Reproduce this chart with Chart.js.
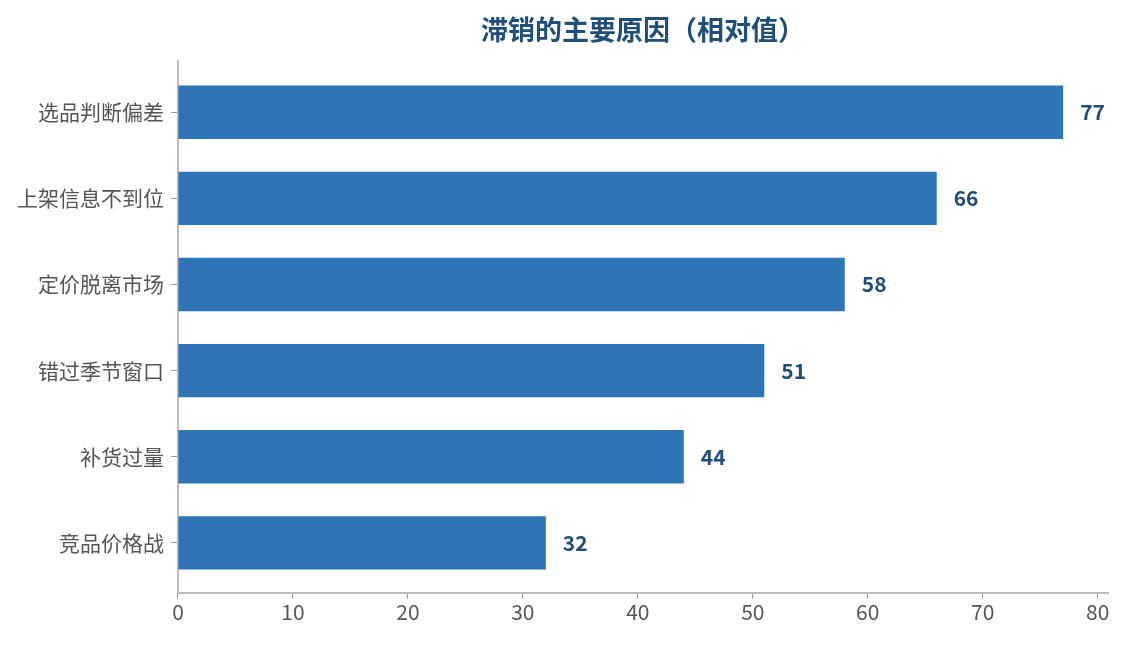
<!DOCTYPE html>
<html>
<head>
<meta charset="utf-8">
<script src="https://cdn.jsdelivr.net/npm/chart.js@4/dist/chart.umd.min.js"></script>
<style>
  html, body { margin: 0; padding: 0; background: #fff; }
  #wrap { width: 1124px; height: 645px; }
</style>
</head>
<body>
<div id="wrap"><canvas id="reasonChart"></canvas></div>
<script>
const reasons = ["选品判断偏差", "上架信息不到位", "定价脱离市场", "错过季节窗口", "补货过量", "竞品价格战"];
const scores = [77, 66, 58, 51, 44, 32];
const xTicks = [0, 10, 20, 30, 40, 50, 60, 70, 80];

const fontFamily = "'Noto Sans CJK SC', 'Noto Sans', sans-serif";

// value labels at the end of each bar
const barValueLabels = {
    id: "barValueLabels",
    afterDatasetsDraw(chart) {
        const ctx = chart.ctx;
        const meta = chart.getDatasetMeta(0);
        ctx.save();
        ctx.fillStyle = "#1F4E79";
        ctx.font = "bold 21px " + fontFamily;
        ctx.textAlign = "left";
        ctx.textBaseline = "middle";
        meta.data.forEach((bar, i) => {
            ctx.fillText(String(scores[i]), bar.x + 17, bar.y);
        });
        ctx.restore();
    }
};

new Chart(document.getElementById("reasonChart"), {
    type: "bar",
    data: {
        datasets: [{
            data: scores.map((v, i) => ({ x: v, y: i })),
            backgroundColor: "#2E75B6",
            barPercentage: 0.62,
            categoryPercentage: 1
        }]
    },
    options: {
        indexAxis: "y",
        responsive: true,
        maintainAspectRatio: false,
        animation: false,
        layout: { padding: { left: 10, right: 16, top: 2, bottom: 19 } },
        plugins: {
            legend: { display: false },
            tooltip: { enabled: false },
            title: {
                display: true,
                fullSize: false,
                text: "滞销的主要原因（相对值）",
                color: "#1F4E79",
                font: { family: fontFamily, size: 27, weight: "bold" },
                padding: { top: 12, bottom: 15 }
            }
        },
        scales: {
            x: {
                type: "linear",
                min: 0,
                max: 80.9,
                afterBuildTicks(axis) {
                    axis.ticks = xTicks.map(v => ({ value: v }));
                },
                grid: {
                    display: true,
                    drawOnChartArea: false,
                    drawTicks: true,
                    tickLength: 6,
                    color: "#999"
                },
                border: { display: true, color: "#bbb", width: 2 },
                ticks: {
                    color: "#555",
                    font: { family: fontFamily, size: 21 },
                    padding: 1
                }
            },
            y: {
                type: "linear",
                reverse: true,
                offset: false,
                min: -0.59,
                max: 5.58,
                afterBuildTicks(axis) {
                    axis.ticks = reasons.map((r, i) => ({ value: i }));
                },
                grid: {
                    display: true,
                    offset: false,
                    drawOnChartArea: false,
                    drawTicks: true,
                    tickLength: 7,
                    color: "#999"
                },
                border: { display: true, color: "#bbb", width: 2 },
                ticks: {
                    color: "#555",
                    font: { family: fontFamily, size: 21 },
                    padding: 7,
                    callback: (value) => reasons[value]
                }
            }
        }
    },
    plugins: [barValueLabels]
});
</script>
</body>
</html>
